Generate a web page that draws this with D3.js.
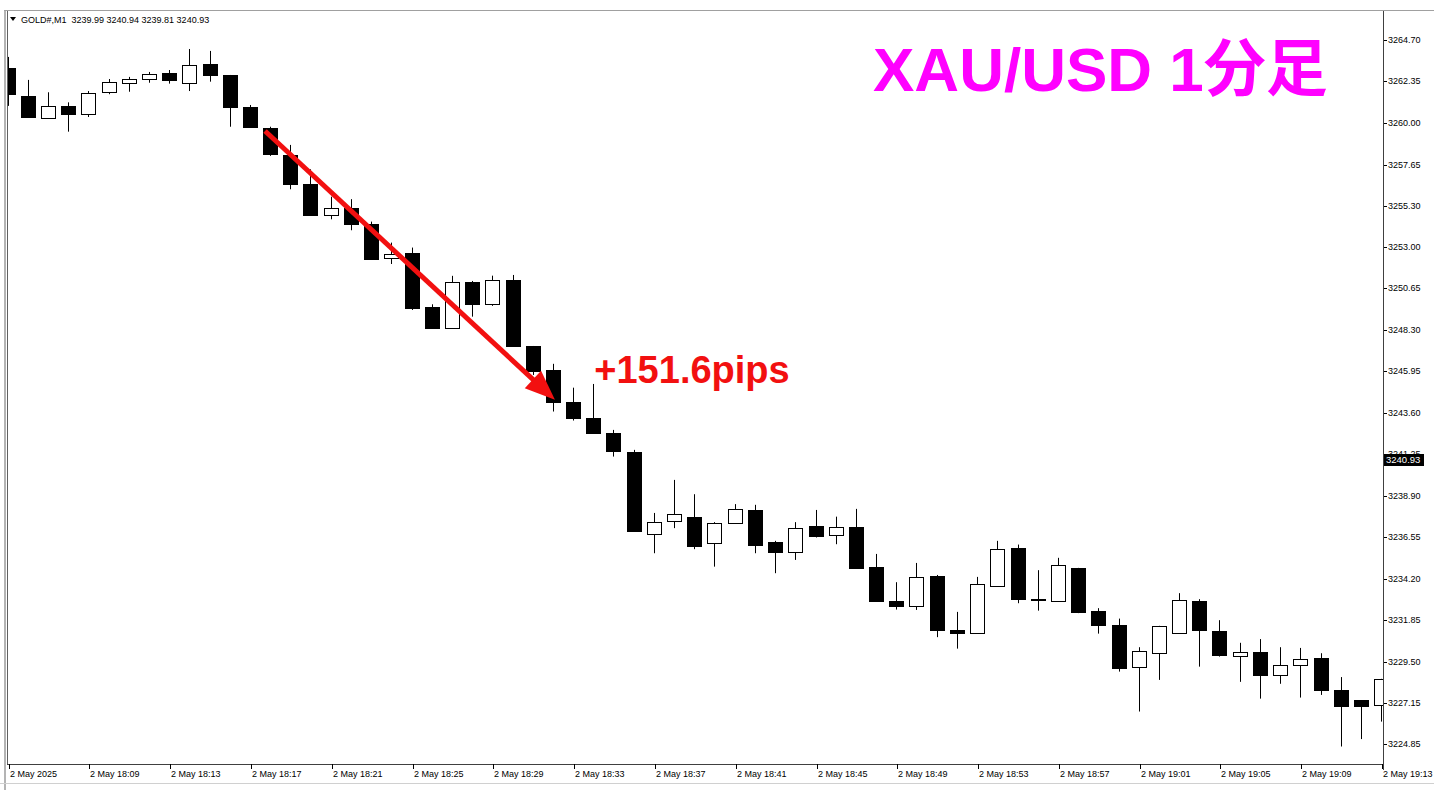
<!DOCTYPE html>
<html>
<head>
<meta charset="utf-8">
<title>XAU/USD M1</title>
<script src="https://cdn.jsdelivr.net/npm/d3@7/dist/d3.min.js"></script>
<style>
body { margin: 0; background: #fff; }
svg { display: block; font-family: "Liberation Sans", Arial, sans-serif; }
</style>
</head>
<body>
<svg id="chart" width="1434" height="790"></svg>
<script>
// one candle per minute, 18:05 -> 19:13
var times = ["18:05","18:06","18:07","18:08","18:09","18:10","18:11","18:12","18:13","18:14",
  "18:15","18:16","18:17","18:18","18:19","18:20","18:21","18:22","18:23","18:24",
  "18:25","18:26","18:27","18:28","18:29","18:30","18:31","18:32","18:33","18:34",
  "18:35","18:36","18:37","18:38","18:39","18:40","18:41","18:42","18:43","18:44",
  "18:45","18:46","18:47","18:48","18:49","18:50","18:51","18:52","18:53","18:54",
  "18:55","18:56","18:57","18:58","18:59","19:00","19:01","19:02","19:03","19:04",
  "19:05","19:06","19:07","19:08","19:09","19:10","19:11","19:12","19:13"];

var open = [3263.12,3261.53,3260.30,3260.95,3260.53,3261.74,3262.25,3262.48,3262.82,3262.25,
  3263.33,3262.70,3260.91,3259.70,3258.18,3256.57,3254.78,3255.19,3254.30,3252.35,
  3252.63,3249.61,3248.42,3251.01,3249.74,3251.12,3247.38,3246.01,3244.23,3243.29,
  3242.44,3241.40,3236.73,3237.50,3237.72,3236.22,3237.38,3238.12,3236.28,3235.71,
  3237.20,3236.67,3237.12,3234.88,3232.95,3232.69,3234.37,3231.31,3231.16,3233.82,
  3235.95,3233.05,3232.97,3234.82,3232.40,3231.61,3229.23,3230.03,3231.13,3232.95,
  3231.27,3229.82,3230.07,3228.73,3229.31,3229.73,3227.90,3227.33,3227.05];
var high = [3263.74,3262.44,3261.74,3261.17,3261.81,3262.49,3262.61,3262.89,3263.00,3264.19,
  3264.08,3262.72,3261.02,3259.79,3258.76,3257.38,3255.83,3255.69,3254.42,3253.23,
  3252.95,3249.74,3251.35,3251.06,3251.36,3251.40,3247.38,3246.37,3245.02,3245.23,
  3242.63,3241.50,3237.93,3239.80,3238.99,3237.41,3238.43,3238.39,3236.35,3237.41,
  3238.10,3237.72,3238.16,3235.61,3234.01,3235.10,3234.42,3232.33,3234.31,3236.35,
  3236.14,3234.69,3235.39,3234.82,3232.54,3231.95,3230.33,3231.54,3233.39,3233.05,
  3231.86,3230.58,3230.79,3230.33,3230.29,3229.99,3228.64,3227.33,3228.54];
var low = [3260.97,3260.29,3260.30,3259.51,3260.34,3261.63,3261.77,3262.28,3262.23,3261.81,
  3262.34,3259.79,3259.75,3258.14,3256.25,3254.80,3254.55,3253.93,3252.25,3252.02,
  3249.42,3248.40,3248.39,3249.04,3249.65,3247.36,3245.74,3243.67,3243.16,3242.43,
  3241.12,3236.91,3235.65,3237.07,3235.88,3234.89,3237.38,3235.65,3234.52,3235.27,
  3236.54,3236.16,3234.78,3232.93,3232.46,3232.44,3230.90,3230.25,3231.13,3233.76,
  3232.82,3232.40,3232.97,3232.26,3231.10,3228.95,3226.69,3228.48,3231.12,3229.23,
  3229.80,3228.37,3227.42,3228.26,3227.48,3227.63,3224.71,3225.13,3226.12];
var close = [3261.64,3260.34,3260.97,3260.53,3261.70,3262.31,3262.51,3262.78,3262.42,3263.29,
  3262.72,3260.93,3259.76,3258.23,3256.55,3254.81,3255.19,3254.30,3252.32,3252.59,
  3249.52,3248.42,3251.01,3249.78,3251.10,3247.38,3245.97,3244.23,3243.29,3242.44,
  3241.44,3236.93,3237.44,3237.88,3236.08,3237.35,3238.14,3236.14,3235.74,3237.07,
  3236.65,3237.12,3234.82,3232.94,3232.65,3234.31,3231.31,3231.16,3233.92,3235.90,
  3233.08,3233.00,3234.99,3232.35,3231.58,3229.16,3230.11,3231.52,3232.99,3231.29,
  3229.91,3230.05,3228.78,3229.33,3229.65,3227.90,3227.01,3227.01,3228.52];

var priceTicks = [3264.70,3262.35,3260.00,3257.65,3255.30,3253.00,3250.65,3248.30,3245.95,
  3243.60,3241.25,3238.90,3236.55,3234.20,3231.85,3229.50,3227.15,3224.85];
var timeTickIdx = [0,4,8,12,16,20,24,28,32,36,40,44,48,52,56,60,64,68];
var timeTickLabels = ["2 May 2025","2 May 18:09","2 May 18:13","2 May 18:17","2 May 18:21",
  "2 May 18:25","2 May 18:29","2 May 18:33","2 May 18:37","2 May 18:41","2 May 18:45",
  "2 May 18:49","2 May 18:53","2 May 18:57","2 May 19:01","2 May 19:05","2 May 19:09","2 May 19:13"];

var header = "GOLD#,M1  3239.99 3240.94 3239.81 3240.93";
var lastPrice = 3240.93;
var arrowFrom = {i: 12.7, p: 3259.55};
var arrowTo = {i: 27.05, p: 3244.33};
var pipsText = "+151.6pips";
var pipsAt = {i: 29.0, p: 3245.30};
var title = "XAU/USD 1分足";

var candles = times.map(function(t, i) {
  return {t: t, i: i, o: open[i], h: high[i], l: low[i], c: close[i]};
});

var svg = d3.select("#chart");
// note: "top" is taken by window.top, so use p* names
var pLeft = 7, pRight = 1383, pTop = 11, pBottom = 764;

var x = d3.scaleLinear().domain([0, 68]).range([8.5, 1382.1]);
var y = d3.scaleLinear().domain([3223.72, 3266.34]).range([pBottom, pTop]);

// frame
svg.append("line").attr("x1", 5).attr("x2", 5).attr("y1", pTop).attr("y2", 790)
  .attr("stroke", "#b4b4b4").attr("stroke-width", 2);
svg.append("line").attr("x1", 4).attr("x2", 1434).attr("y1", pTop - 0.5).attr("y2", pTop - 0.5)
  .attr("stroke", "#a0a0a0");
svg.append("line").attr("x1", 0).attr("x2", 1434).attr("y1", 783.5).attr("y2", 783.5)
  .attr("stroke", "#d0d0d0");

svg.append("defs").append("clipPath").attr("id", "plot")
  .append("rect").attr("x", pLeft + 1).attr("y", pTop).attr("width", pRight - pLeft - 1).attr("height", pBottom - pTop);

var g = svg.append("g").attr("clip-path", "url(#plot)");

// wicks
g.selectAll("line.wick").data(candles).join("line")
  .attr("class", "wick")
  .attr("x1", d => Math.round(x(d.i)) - 0.5)
  .attr("x2", d => Math.round(x(d.i)) - 0.5)
  .attr("y1", d => y(d.h))
  .attr("y2", d => y(d.l))
  .attr("stroke", "#000").attr("stroke-width", 1);

// bodies
g.selectAll("rect.body").data(candles).join("rect")
  .attr("class", "body")
  .attr("x", d => Math.round(x(d.i)) - 7.5)
  .attr("width", 14)
  .attr("y", d => Math.round(y(Math.max(d.o, d.c))) + 0.5)
  .attr("height", d => Math.max(1, Math.round(y(Math.min(d.o, d.c))) - Math.round(y(Math.max(d.o, d.c)))))
  .attr("fill", d => d.c < d.o ? "#000" : "#fff")
  .attr("stroke", "#000").attr("stroke-width", 1);

// plot border
svg.append("line").attr("x1", pLeft + 0.5).attr("x2", pLeft + 0.5).attr("y1", pTop).attr("y2", pBottom)
  .attr("stroke", "#606060");
svg.append("line").attr("x1", pRight + 0.5).attr("x2", pRight + 0.5).attr("y1", pTop).attr("y2", pBottom + 6)
  .attr("stroke", "#404040");
svg.append("line").attr("x1", pLeft).attr("x2", pRight + 1).attr("y1", pBottom + 0.5).attr("y2", pBottom + 0.5)
  .attr("stroke", "#404040");

// price axis
var py = svg.append("g");
py.selectAll("line").data(priceTicks).join("line")
  .attr("x1", pRight + 1).attr("x2", pRight + 4)
  .attr("y1", d => Math.round(y(d)) + 0.5).attr("y2", d => Math.round(y(d)) + 0.5)
  .attr("stroke", "#000");
py.selectAll("text").data(priceTicks).join("text")
  .attr("x", pRight + 5).attr("y", d => y(d) + 3)
  .attr("font-size", 9).attr("fill", "#000")
  .text(d => d.toFixed(2));

// current price tag (covers most of the 3241.25 label, as in MT4)
svg.append("rect").attr("x", pRight + 1).attr("y", Math.round(y(lastPrice)) - 6)
  .attr("width", 40).attr("height", 12).attr("fill", "#000");
svg.append("text").attr("x", pRight + 3).attr("y", y(lastPrice) + 3.5)
  .attr("font-size", 9.5).attr("fill", "#fff").text(lastPrice.toFixed(2));

// time axis
var tx = svg.append("g");
tx.selectAll("line").data(timeTickIdx).join("line")
  .attr("x1", d => Math.round(x(d)) + 0.5).attr("x2", d => Math.round(x(d)) + 0.5)
  .attr("y1", pBottom).attr("y2", pBottom + 5)
  .attr("stroke", "#000");
tx.selectAll("text").data(timeTickIdx).join("text")
  .attr("x", d => Math.round(x(d)) + 1).attr("y", pBottom + 13)
  .attr("font-size", 9).attr("fill", "#000")
  .text((d, k) => timeTickLabels[k]);

// header
svg.append("path").attr("d", "M10,17 L16,17 L13,21 Z").attr("fill", "#000");
svg.append("text").attr("x", 21).attr("y", 23).attr("font-size", 9).attr("fill", "#000")
  .attr("xml:space", "preserve").style("white-space", "pre").text(header);

// red arrow
var x1 = x(arrowFrom.i), y1 = y(arrowFrom.p), x2 = x(arrowTo.i), y2 = y(arrowTo.p);
var len = Math.hypot(x2 - x1, y2 - y1), ux = (x2 - x1) / len, uy = (y2 - y1) / len;
var headL = 30, headW = 12;
var bx = x2 - ux * headL, by = y2 - uy * headL;
svg.append("line").attr("x1", x1).attr("y1", y1).attr("x2", bx + ux * 4).attr("y2", by + uy * 4)
  .attr("stroke", "#f21010").attr("stroke-width", 5);
svg.append("path")
  .attr("d", "M" + x2 + "," + y2 + " L" + (bx - uy * headW) + "," + (by + ux * headW) +
    " L" + (bx + uy * headW) + "," + (by - ux * headW) + " Z")
  .attr("fill", "#f21010");

svg.append("text").attr("x", x(pipsAt.i)).attr("y", y(pipsAt.p))
  .attr("font-size", 38).attr("font-weight", "bold").attr("fill", "#f21010")
  .text(pipsText);

svg.append("text").attr("x", 873).attr("y", 91)
  .style("font-family", "'Liberation Sans', 'Noto Sans CJK JP', sans-serif")
  .attr("font-size", 62).attr("font-weight", "bold").attr("fill", "#ff00ff")
  .text(title);
</script>
</body>
</html>
